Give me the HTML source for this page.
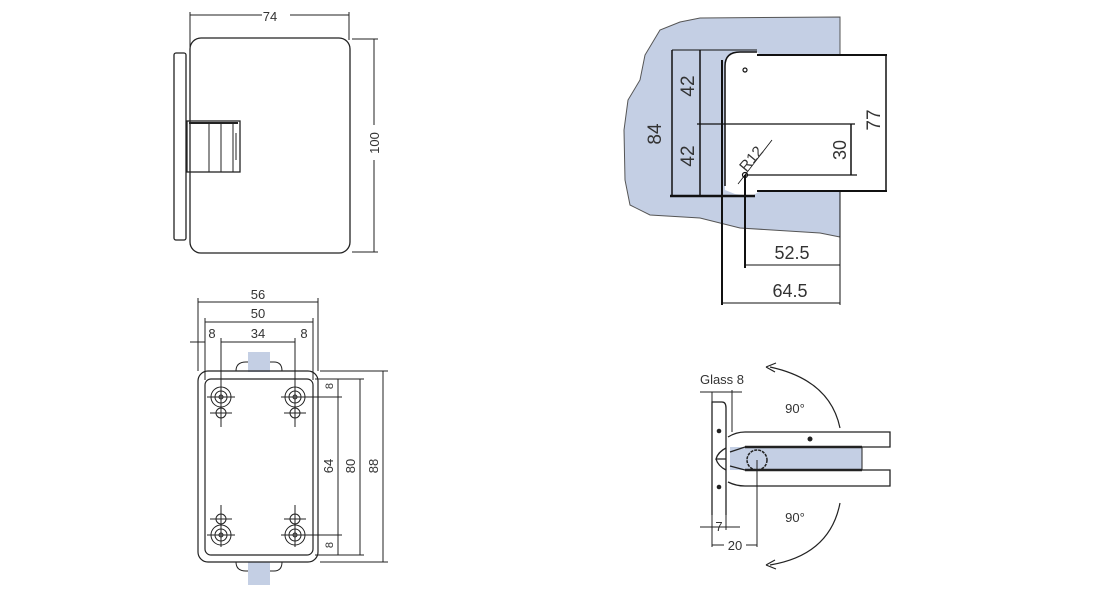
<!DOCTYPE html>
<html><head><meta charset="utf-8"><style>
html,body{margin:0;padding:0;background:#fff;}
svg{display:block;}
text{font-family:"Liberation Sans",sans-serif;fill:#333;}
</style></head><body>
<svg width="1099" height="600" viewBox="0 0 1099 600" xmlns="http://www.w3.org/2000/svg">
<g stroke="#222" fill="none" stroke-width="1">
<!-- top-left view -->
<rect x="190" y="38" width="160" height="215" rx="11" stroke-width="1.3"/>
<rect x="174" y="53" width="12" height="187" rx="2" stroke-width="1.3"/>
<rect x="187" y="121" width="53" height="51" stroke-width="1.3"/>
<line x1="189" y1="123" x2="238" y2="123" stroke-width="2"/>
<line x1="209" y1="123" x2="209" y2="172"/>
<line x1="221" y1="123" x2="221" y2="172"/>
<line x1="233" y1="123" x2="233" y2="172"/>
<line x1="236" y1="133" x2="236" y2="160"/>
<line x1="190" y1="15" x2="262" y2="15"/><line x1="290" y1="15" x2="349" y2="15"/>
<line x1="190" y1="12" x2="190" y2="50"/><line x1="349" y1="12" x2="349" y2="40"/>
<line x1="374" y1="39" x2="374" y2="125"/><line x1="374" y1="160" x2="374" y2="252"/>
<line x1="352" y1="39" x2="378" y2="39"/><line x1="352" y1="252" x2="378" y2="252"/>
</g>
<text x="270" y="21" font-size="13" text-anchor="middle">74</text>
<text transform="translate(379,143) rotate(-90)" font-size="13" text-anchor="middle">100</text>

<!-- bottom-left view -->
<g stroke="#222" fill="none" stroke-width="1">
<rect x="248" y="352" width="22" height="20" fill="#c4cfe4" stroke="none"/>
<rect x="248" y="562" width="22" height="23" fill="#c4cfe4" stroke="none"/>
<path d="M236,371 Q236,362 246,362 L248,362 M270,362 L274,362 Q282,362 282,371"/>
<path d="M236,562 Q236,571 246,571 L248,571 M270,571 L274,571 Q282,571 282,562"/>
<rect x="198" y="371" width="120" height="191" rx="10" stroke-width="1.2"/>
<rect x="205" y="379" width="108" height="176" rx="6" stroke-width="1.2"/>
<g id="h">
<circle cx="221" cy="397" r="10"/><circle cx="221" cy="397" r="6"/><circle cx="221" cy="397" r="2"/>
<circle cx="221" cy="413" r="5"/>
<line x1="207" y1="397" x2="235" y2="397"/><line x1="221" y1="385" x2="221" y2="427"/>
<line x1="210" y1="413" x2="232" y2="413"/>
</g>
<g transform="translate(74,0)">
<circle cx="221" cy="397" r="10"/><circle cx="221" cy="397" r="6"/><circle cx="221" cy="397" r="2"/>
<circle cx="221" cy="413" r="5"/>
<line x1="207" y1="397" x2="235" y2="397"/><line x1="221" y1="385" x2="221" y2="427"/>
<line x1="210" y1="413" x2="232" y2="413"/>
</g>
<g transform="translate(0,932) scale(1,-1)">
<circle cx="221" cy="397" r="10"/><circle cx="221" cy="397" r="6"/><circle cx="221" cy="397" r="2"/>
<circle cx="221" cy="413" r="5"/>
<line x1="207" y1="397" x2="235" y2="397"/><line x1="221" y1="385" x2="221" y2="427"/>
<line x1="210" y1="413" x2="232" y2="413"/>
</g>
<g transform="translate(74,932) scale(1,-1)">
<circle cx="221" cy="397" r="10"/><circle cx="221" cy="397" r="6"/><circle cx="221" cy="397" r="2"/>
<circle cx="221" cy="413" r="5"/>
<line x1="207" y1="397" x2="235" y2="397"/><line x1="221" y1="385" x2="221" y2="427"/>
<line x1="210" y1="413" x2="232" y2="413"/>
</g>
<line x1="198" y1="302" x2="318" y2="302"/><line x1="205" y1="322" x2="313" y2="322"/>
<line x1="221" y1="342" x2="295" y2="342"/><line x1="190" y1="342" x2="205" y2="342"/>
<line x1="198" y1="298" x2="198" y2="371"/><line x1="318" y1="298" x2="318" y2="371"/>
<line x1="205" y1="318" x2="205" y2="380"/><line x1="313" y1="318" x2="313" y2="380"/>
<line x1="221" y1="338" x2="221" y2="385"/><line x1="295" y1="338" x2="295" y2="385"/>
<line x1="320" y1="371" x2="388" y2="371"/><line x1="320" y1="562" x2="388" y2="562"/>
<line x1="383" y1="371" x2="383" y2="562"/>
<line x1="315" y1="379" x2="364" y2="379"/><line x1="315" y1="555" x2="364" y2="555"/>
<line x1="360" y1="379" x2="360" y2="555"/>
<line x1="295" y1="397" x2="342" y2="397"/><line x1="295" y1="535" x2="342" y2="535"/>
<line x1="338" y1="397" x2="338" y2="535"/>
<line x1="338" y1="379" x2="338" y2="397"/><line x1="338" y1="535" x2="338" y2="555"/>
</g>
<text x="258" y="299" font-size="13" text-anchor="middle">56</text>
<text x="258" y="318" font-size="13" text-anchor="middle">50</text>
<text x="258" y="338" font-size="13" text-anchor="middle">34</text>
<text x="212" y="338" font-size="13" text-anchor="middle">8</text>
<text x="304" y="338" font-size="13" text-anchor="middle">8</text>
<text transform="translate(333,386) rotate(-90)" font-size="11" text-anchor="middle">8</text>
<text transform="translate(333,545) rotate(-90)" font-size="11" text-anchor="middle">8</text>
<text transform="translate(333,466) rotate(-90)" font-size="13" text-anchor="middle">64</text>
<text transform="translate(355,466) rotate(-90)" font-size="13" text-anchor="middle">80</text>
<text transform="translate(378,466) rotate(-90)" font-size="13" text-anchor="middle">88</text>

<!-- top-right -->
<path d="M680,22 L700,18 L840,17 L840,237 L820,233 L740,228 L700,218 L650,215 L630,205 L625,180 L624,130 L628,100 L640,80 L645,55 L660,30 Z" fill="#c4cfe4" stroke="#555" stroke-width="1"/>
<path d="M725,190 L725,66 Q725,52 740,52 L757,52 L760,55 L842,55 L842,191 L760,191 L752,196 L735,194 Z" fill="#fff" stroke="none"/>
<g stroke="#111" fill="none">
<path d="M725,186 L725,66 Q725,52 740,52 L757,52" stroke-width="1.5"/>
<line x1="757" y1="55" x2="887" y2="55" stroke-width="2"/>
<line x1="757" y1="191" x2="887" y2="191" stroke-width="2"/>
<line x1="886" y1="55" x2="886" y2="191" stroke-width="1.5"/>
<line x1="672" y1="50" x2="672" y2="196" stroke-width="1.5"/>
<line x1="700" y1="50" x2="700" y2="196" stroke-width="1.5"/>
<line x1="672" y1="50" x2="757" y2="50" stroke-width="1"/>
<line x1="670" y1="196" x2="755" y2="196" stroke-width="2.5"/>
<line x1="697" y1="124" x2="855" y2="124" stroke-width="1.3"/>
<line x1="745" y1="175" x2="857" y2="175" stroke-width="1.3"/>
<line x1="851" y1="124" x2="851" y2="175" stroke-width="1.5"/>
<line x1="722" y1="60" x2="722" y2="305" stroke-width="2"/>
<line x1="745" y1="175" x2="745" y2="268" stroke-width="2"/>
<line x1="745" y1="265" x2="840" y2="265" stroke-width="1"/>
<line x1="722" y1="303" x2="840" y2="303" stroke-width="1"/>
<line x1="840" y1="191" x2="840" y2="305" stroke-width="1"/>
<circle cx="745" cy="175" r="2.5" stroke-width="1.2"/>
<circle cx="745" cy="70" r="2" stroke-width="1.2"/>
<line x1="738" y1="184" x2="772" y2="140" stroke-width="0.8"/>
</g>
<text x="651" y="124" font-size="19" transform="rotate(-90,661,124)" text-anchor="middle" fill="#222">84</text>
<text transform="translate(694,86) rotate(-90)" font-size="19" text-anchor="middle" fill="#222">42</text>
<text transform="translate(694,156) rotate(-90)" font-size="19" text-anchor="middle" fill="#222">42</text>
<text transform="translate(846,150) rotate(-90)" font-size="18" text-anchor="middle" fill="#222">30</text>
<text transform="translate(880,120) rotate(-90)" font-size="19" text-anchor="middle" fill="#222">77</text>
<text transform="translate(755,162) rotate(-50)" font-size="15" text-anchor="middle" fill="#222">R12</text>
<text x="792" y="259" font-size="18" text-anchor="middle" fill="#222">52.5</text>
<text x="790" y="297" font-size="18" text-anchor="middle" fill="#222">64.5</text>

<!-- bottom-right -->
<g stroke="#222" fill="none" stroke-width="1">
<rect x="730" y="447" width="132" height="23" fill="#c4cfe4" stroke="none"/>
<path d="M712,515 L712,402 L722,402 Q726,402 726,408 L726,515" stroke-width="1.3"/>
<path d="M728,437 Q736,432 745,432 L890,432 L890,447 L745,447 L730,452" stroke-width="1.3"/>
<path d="M728,482 Q736,486 745,486 L890,486 L890,470 L745,470 L730,466" stroke-width="1.3"/>
<line x1="745" y1="447" x2="862" y2="447" stroke-width="2.5"/>
<line x1="745" y1="470" x2="862" y2="470" stroke-width="2.5"/>
<line x1="862" y1="447" x2="862" y2="470"/>
<path d="M726,448 Q718,452 716,459 L726,459 M716,459 Q718,466 726,470" stroke-width="1.3"/>
<circle cx="757" cy="460" r="10" stroke-width="1.5" stroke-dasharray="3 1"/>
<line x1="757" y1="460" x2="757" y2="547"/>
<line x1="712" y1="392" x2="712" y2="402"/><line x1="732" y1="390" x2="732" y2="432"/>
<line x1="700" y1="392" x2="742" y2="392"/>
<line x1="700" y1="527" x2="740" y2="527"/>
<line x1="712" y1="515" x2="712" y2="547"/><line x1="726" y1="515" x2="726" y2="530"/>
<line x1="712" y1="545" x2="724" y2="545"/><line x1="746" y1="545" x2="757" y2="545"/>
<path d="M770,367 Q830,380 840,428" stroke-width="1.2"/>
<path d="M840,503 Q830,555 770,565" stroke-width="1.2"/>
<path d="M766,367 L776,363 M766,367 L775,372" stroke-width="1.2"/>
<path d="M766,565 L775,560 M766,565 L776,569" stroke-width="1.2"/>
</g>
<circle cx="810" cy="439" r="2.5" fill="#222"/>
<circle cx="719" cy="431" r="2.3" fill="#222"/>
<circle cx="719" cy="487" r="2.3" fill="#222"/>
<text x="722" y="384" font-size="13" text-anchor="middle">Glass 8</text>
<text x="795" y="413" font-size="13" text-anchor="middle">90°</text>
<text x="795" y="522" font-size="13" text-anchor="middle">90°</text>
<text x="719" y="531" font-size="13" text-anchor="middle">7</text>
<text x="735" y="550" font-size="13" text-anchor="middle">20</text>
</svg>
</body></html>
